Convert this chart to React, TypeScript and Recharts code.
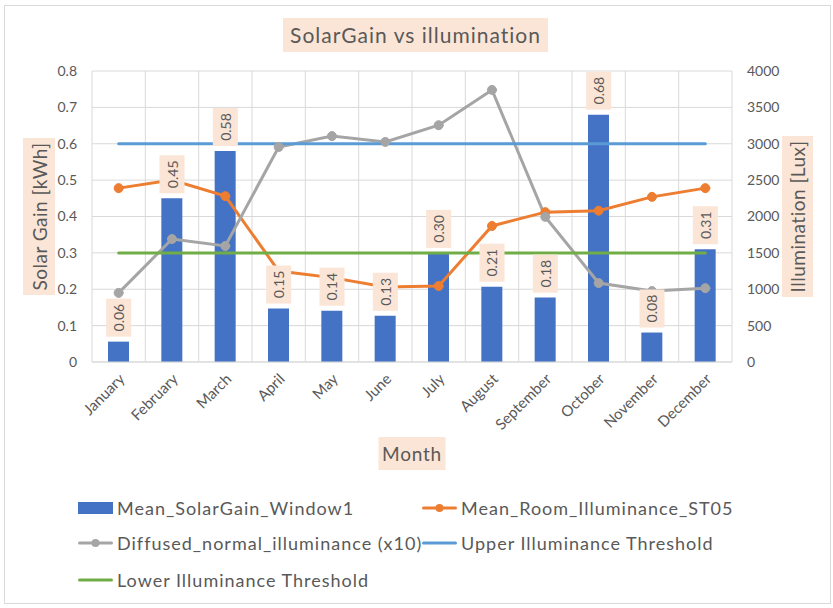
import {
  ComposedChart,
  Bar,
  Line,
  XAxis,
  YAxis,
  CartesianGrid,
  Legend,
  LabelList,
  Label,
} from "recharts";

const months = [
  "January",
  "February",
  "March",
  "April",
  "May",
  "June",
  "July",
  "August",
  "September",
  "October",
  "November",
  "December",
];
const solarGain = [0.056, 0.45, 0.58, 0.147, 0.141, 0.127, 0.3, 0.207, 0.177, 0.68, 0.081, 0.31];
const roomIlluminance = [2390, 2500, 2280, 1250, 1160, 1030, 1045, 1870, 2060, 2080, 2270, 2390];
const diffusedIlluminance = [950, 1690, 1595, 2955, 3105, 3025, 3255, 3740, 1995, 1085, 975, 1015];
const upperThreshold = [3000, 3000, 3000, 3000, 3000, 3000, 3000, 3000, 3000, 3000, 3000, 3000];
const lowerThreshold = [1500, 1500, 1500, 1500, 1500, 1500, 1500, 1500, 1500, 1500, 1500, 1500];

const leftTicks = [0, 0.1, 0.2, 0.3, 0.4, 0.5, 0.6, 0.7, 0.8];
const rightTicks = [0, 500, 1000, 1500, 2000, 2500, 3000, 3500, 4000];

const data = months.map((month, i) => ({
  month,
  solar: solarGain[i],
  room: roomIlluminance[i],
  diffused: diffusedIlluminance[i],
  upper: upperThreshold[i],
  lower: lowerThreshold[i],
}));

const FONT = "Lato, 'Open Sans', sans-serif";
const TEXT = "#595959";
const BOX = "#FBE5D6";
const GRID = "#d9d9d9";

const legendItems = [
  { name: "Mean_SolarGain_Window1", color: "#4472C4", kind: "bar" },
  { name: "Mean_Room_Illuminance_ST05", color: "#ED7D31", kind: "marker" },
  { name: "Diffused_normal_illuminance (x10)", color: "#A5A5A5", kind: "marker" },
  { name: "Upper Illuminance Threshold", color: "#5B9BD5", kind: "line" },
  { name: "Lower Illuminance Threshold", color: "#70AD47", kind: "line" },
];

function BoxedText({
  cx,
  cy,
  w,
  h,
  text,
  size,
  spacing = 0,
  vertical,
}: {
  cx: number;
  cy: number;
  w: number;
  h: number;
  text: string;
  size: number;
  spacing?: number;
  vertical?: boolean;
}) {
  return (
    <g>
      <rect x={cx - w / 2} y={cy - h / 2} width={w} height={h} fill={BOX} />
      <text
        x={cx}
        y={cy}
        transform={vertical ? `rotate(-90, ${cx}, ${cy})` : undefined}
        textAnchor="middle"
        dominantBaseline="central"
        fontFamily={FONT}
        fontSize={size}
        letterSpacing={spacing}
        fill={TEXT}
      >
        {text}
      </text>
    </g>
  );
}

// value label above each bar, drawn by a hidden line so it sits over the other series
function BarValueLabel(props: any) {
  const { x, y, value } = props;
  if (value == null) return null;
  const h = 38;
  return (
    <BoxedText
      cx={x}
      cy={y - 5 - h / 2}
      w={25}
      h={h}
      text={Number(value).toFixed(2)}
      size={14}
      vertical
    />
  );
}

function MonthTick(props: any) {
  const { x, y, payload } = props;
  const ax = x + 7;
  const ay = y + 10;
  return (
    <text
      x={ax}
      y={ay}
      transform={`rotate(-45, ${ax}, ${ay})`}
      textAnchor="end"
      fontFamily={FONT}
      fontSize={15}
      fill={TEXT}
    >
      {payload.value}
    </text>
  );
}

function LegendSwatch({ color, kind }: { color: string; kind: string }) {
  if (kind === "bar") {
    return <div style={{ width: 35, height: 12, background: color }} />;
  }
  return (
    <svg width={35} height={10}>
      <line x1={1.5} y1={5} x2={33.5} y2={5} stroke={color} strokeWidth={3} strokeLinecap="round" />
      {kind === "marker" && <circle cx={17.5} cy={5} r={4} fill={color} />}
    </svg>
  );
}

function ChartLegend() {
  const cols = [78, 422];
  const rows = [508, 543, 580];
  return (
    <div style={{ position: "relative", width: 833, height: 110, fontFamily: FONT }}>
      {legendItems.map((item, i) => (
        <div
          key={item.name}
          style={{
            position: "absolute",
            left: cols[i % 2],
            top: rows[Math.floor(i / 2)] - 490 - 12,
            height: 24,
            display: "flex",
            alignItems: "center",
            gap: 4,
            fontSize: 18,
            letterSpacing: 1,
            color: TEXT,
            whiteSpace: "nowrap",
          }}
        >
          <LegendSwatch color={item.color} kind={item.kind} />
          <span>{item.name}</span>
        </div>
      ))}
    </div>
  );
}

export default function App() {
  return (
    <div
      style={{
        position: "absolute",
        left: 0,
        top: 0,
        width: 833,
        height: 608,
        background: "#fff",
        fontFamily: FONT,
      }}
    >
      <div
        style={{
          position: "absolute",
          left: 4,
          top: 5,
          width: 825,
          height: 597,
          border: `1px solid ${GRID}`,
        }}
      />
      <div
        style={{
          position: "absolute",
          left: 283,
          top: 18,
          width: 265,
          height: 34,
          background: BOX,
          color: TEXT,
          fontSize: 21,
          letterSpacing: 1,
          lineHeight: "34px",
          textAlign: "center",
          whiteSpace: "nowrap",
        }}
      >
        SolarGain vs illumination
      </div>
      <ComposedChart
        width={833}
        height={608}
        data={data}
        margin={{ top: 71, right: 41, bottom: 126, left: 32 }}
        style={{ position: "absolute", left: 0, top: 0 }}
      >
        <CartesianGrid
          yAxisId="left"
          stroke={GRID}
          strokeWidth={1}
          verticalCoordinatesGenerator={({ offset }: any) =>
            Array.from({ length: months.length + 1 }, (_, i) => offset.left + (i * offset.width) / months.length)
          }
        />
        <XAxis
          dataKey="month"
          height={120}
          interval={0}
          axisLine={{ stroke: GRID }}
          tickLine={false}
          tick={<MonthTick />}
        >
          <Label
            content={({ viewBox }: any) => (
              <BoxedText
                cx={viewBox.x + viewBox.width / 2}
                cy={453.5}
                w={67}
                h={33}
                text="Month"
                size={19}
                spacing={0.8}
              />
            )}
          />
        </XAxis>
        <YAxis
          yAxisId="left"
          orientation="left"
          width={60}
          domain={[0, 0.8]}
          ticks={leftTicks}
          axisLine={false}
          tickLine={false}
          tickMargin={9}
          tick={{ fontSize: 14, fill: TEXT, fontFamily: FONT }}
        >
          <Label
            content={({ viewBox }: any) => (
              <BoxedText
                cx={39}
                cy={viewBox.y + viewBox.height / 2}
                w={32}
                h={157}
                text="Solar Gain [kWh]"
                size={19}
                spacing={0.5}
                vertical
              />
            )}
          />
        </YAxis>
        <YAxis
          yAxisId="right"
          orientation="right"
          width={60}
          domain={[0, 4000]}
          ticks={rightTicks}
          axisLine={false}
          tickLine={false}
          tickMargin={9}
          tick={{ fontSize: 14, fill: TEXT, fontFamily: FONT }}
        >
          <Label
            content={({ viewBox }: any) => (
              <BoxedText
                cx={797.5}
                cy={viewBox.y + viewBox.height / 2}
                w={31}
                h={161}
                text="Illumination [Lux]"
                size={19}
                spacing={0.5}
                vertical
              />
            )}
          />
        </YAxis>
        <Bar yAxisId="left" dataKey="solar" fill="#4472C4" barSize={21} isAnimationActive={false} />
        <Line
          yAxisId="right"
          dataKey="room"
          stroke="#ED7D31"
          strokeWidth={3}
          strokeLinecap="round"
          dot={{ r: 4.5, fill: "#ED7D31", stroke: "#ED7D31", strokeWidth: 1 }}
          activeDot={false}
          isAnimationActive={false}
        />
        <Line
          yAxisId="right"
          dataKey="diffused"
          stroke="#A5A5A5"
          strokeWidth={3}
          strokeLinecap="round"
          dot={{ r: 4.5, fill: "#A5A5A5", stroke: "#A5A5A5", strokeWidth: 1 }}
          activeDot={false}
          isAnimationActive={false}
        />
        <Line
          yAxisId="right"
          dataKey="upper"
          stroke="#5B9BD5"
          strokeWidth={3}
          strokeLinecap="round"
          dot={false}
          activeDot={false}
          isAnimationActive={false}
        />
        <Line
          yAxisId="right"
          dataKey="lower"
          stroke="#70AD47"
          strokeWidth={3}
          strokeLinecap="round"
          dot={false}
          activeDot={false}
          isAnimationActive={false}
        />
        <Line
          yAxisId="left"
          dataKey="solar"
          stroke="none"
          dot={false}
          activeDot={false}
          legendType="none"
          isAnimationActive={false}
        >
          <LabelList dataKey="solar" content={<BarValueLabel />} />
        </Line>
        <Legend
          layout="vertical"
          align="center"
          verticalAlign="middle"
          wrapperStyle={{ left: 0, top: 490, width: 833, height: 110 }}
          content={() => <ChartLegend />}
        />
      </ComposedChart>
    </div>
  );
}
